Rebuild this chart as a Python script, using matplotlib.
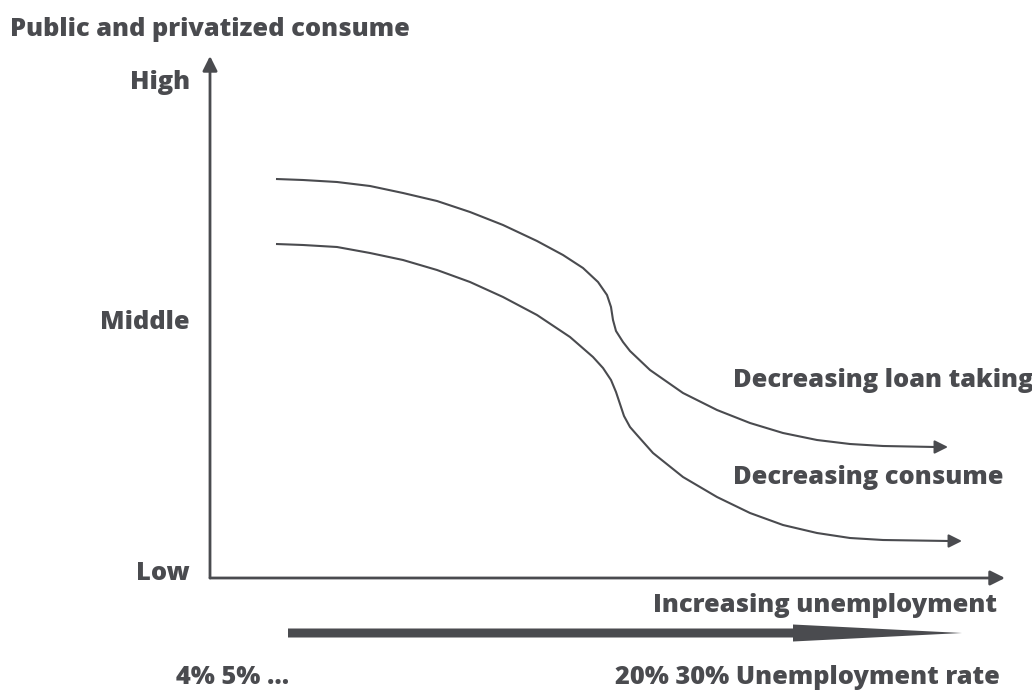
import matplotlib
matplotlib.use('Agg')
import matplotlib.pyplot as plt
from matplotlib.patches import FancyArrow

plt.rcParams['font.family'] = ['Open Sans', 'DejaVu Sans']

INK = '#4a4b4f'

# curve values, origin at the axes corner (x: unemployment, y: consume)
loan_x = [66, 93, 127, 160, 193, 227, 260, 293, 327, 353, 373, 388, 397,
          401, 403, 406, 413, 420, 440, 473, 507, 540, 573, 607, 640, 673, 725]
loan_y = [399, 398, 396, 392, 385, 377, 366, 353, 337, 323, 310, 296, 283,
          271, 258, 247, 236, 227, 208, 185, 168, 155, 145, 138, 134, 132, 131]
loan_tip = (738, 131)

cons_x = [66, 93, 127, 160, 193, 227, 260, 293, 327, 360, 383, 393, 401,
          406, 410, 414, 420, 427, 443, 473, 507, 540, 573, 607, 640, 673, 739]
cons_y = [334, 333, 331, 325, 318, 308, 296, 281, 263, 241, 221, 210, 198,
          186, 174, 162, 151, 143, 125, 101, 81, 65, 53, 45, 40, 38, 37]
cons_tip = (752, 37)

level_labels = ['High', 'Middle', 'Low']
level_pos = [496, 256, 5]

fig = plt.figure(figsize=(10.32, 6.91), dpi=100)
ax = fig.add_axes([0, 0, 1, 1])
ax.set_xlim(-210, 822)
ax.set_ylim(-113, 578)
ax.axis('off')

# axes with arrows
ax.annotate('', xy=(0, 522), xytext=(0, 0),
            arrowprops=dict(arrowstyle='-|>', color=INK, lw=2, mutation_scale=22,
                            shrinkA=0, shrinkB=0))
ax.annotate('', xy=(795, 0), xytext=(0, 0),
            arrowprops=dict(arrowstyle='-|>', color=INK, lw=2, mutation_scale=22,
                            shrinkA=0, shrinkB=0))

for xs, ys, tip in [(loan_x, loan_y, loan_tip), (cons_x, cons_y, cons_tip)]:
    ax.plot(xs, ys, color=INK, lw=1.5, solid_capstyle='butt', solid_joinstyle='round')
    ax.annotate('', xy=tip, xytext=(xs[-1], ys[-1]),
                arrowprops=dict(arrowstyle='-|>', color=INK, lw=1.5,
                                mutation_scale=20, shrinkA=0, shrinkB=0))

# big unemployment arrow
ax.add_patch(FancyArrow(78, -55, 674, 0, width=9, head_width=17, head_length=169,
                        length_includes_head=True, color=INK, lw=0))

fs = 18.3
kw = dict(color=INK, fontsize=fs, fontweight='heavy', va='center')
ax.text(-200, 549, 'Public and privatized consume', ha='left', **kw)
for lab, y in zip(level_labels, level_pos):
    ax.text(-20, y, lab, ha='right', **kw)
ax.text(523, 198, 'Decreasing loan taking', ha='left', **kw)
ax.text(523, 101, 'Decreasing consume', ha='left', **kw)
ax.text(787, -27, 'Increasing unemployment', ha='right', **kw)
ax.text(-34, -99, '4% 5% ...', ha='left', **kw)
ax.text(790, -99, '20% 30% Unemployment rate', ha='right', **kw)

fig.savefig('out.png', dpi=100, facecolor='white')
